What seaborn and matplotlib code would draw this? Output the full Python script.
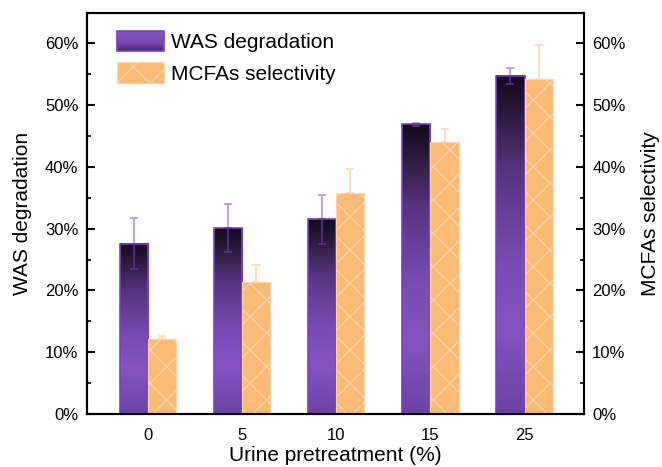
import numpy as np
import pandas as pd
import seaborn as sns
import matplotlib
matplotlib.use("Agg")
import matplotlib.pyplot as plt
from matplotlib.colors import LinearSegmentedColormap
from matplotlib.ticker import PercentFormatter, MultipleLocator
from matplotlib.patches import Rectangle
from matplotlib.legend_handler import HandlerBase

categories = ["0", "5", "10", "15", "25"]
series = ["WAS degradation", "MCFAs selectivity"]
was = [27.6, 30.1, 31.5, 46.9, 54.8]
was_err = [4.2, 3.9, 3.9, 0.3, 1.3]
mcfa = [12.1, 21.3, 35.8, 44.1, 54.3]
mcfa_err = [0.5, 2.8, 3.8, 2.1, 5.5]

PURPLE = "#7a4ab5"
PURPLE_EDGE = "#7d3fc0"
ORANGE = "#fbbb75"
ORANGE_HATCH = "#fdd5aa"

sns.set_theme(style="ticks")
plt.rcParams["font.family"] = ["Liberation Sans", "DejaVu Sans"]
plt.rcParams["hatch.linewidth"] = 0.8
for k in ("text.color", "axes.labelcolor", "xtick.color", "ytick.color",
          "axes.edgecolor"):
    plt.rcParams[k] = "black"

df = pd.DataFrame({
    "Urine": categories * 2,
    "value": was + mcfa,
    "series": [series[0]] * len(categories) + [series[1]] * len(categories),
})

fig = plt.figure(figsize=(6.62, 4.67), dpi=100)
ax = fig.add_axes([0.131, 0.1135, 0.751, 0.8595])

sns.barplot(data=df, x="Urine", y="value", hue="series", order=categories,
            hue_order=series, palette=[PURPLE, ORANGE], width=0.6,
            errorbar=None, legend=False, ax=ax, saturation=1)

bar_cmap = LinearSegmentedColormap.from_list(
    "bar", [(0.0, "#6c42a4"), (0.25, "#8453c0"), (0.45, "#7a4bb4"),
            (0.72, "#55347f"), (0.9, "#2a1838"), (1.0, "#130a19")])
grad = np.linspace(0, 1, 256).reshape(-1, 1)

was_bars = ax.containers[0]
mcfa_bars = ax.containers[1]

for p in was_bars:
    x0, w, h = p.get_x(), p.get_width(), p.get_height()
    ax.imshow(grad, extent=[x0, x0 + w, 0, h], origin="lower", aspect="auto",
              cmap=bar_cmap, zorder=1.5, interpolation="bilinear")
    p.set_facecolor("none")
    p.set_edgecolor(PURPLE_EDGE)
    p.set_linewidth(1.2)
    p.set_zorder(2)

for p in mcfa_bars:
    p.set_facecolor(ORANGE)
    p.set_edgecolor(ORANGE_HATCH)
    p.set_hatch("x")
    p.set_linewidth(0.8)
    p.set_zorder(2)

xs_was = [p.get_x() + p.get_width() / 2 for p in was_bars]
xs_mcfa = [p.get_x() + p.get_width() / 2 for p in mcfa_bars]
zeros = [0] * len(categories)
# upper halves (light) and lower halves (dark, inside the bar)
ax.errorbar(xs_was, was, yerr=[zeros, was_err], fmt="none", ecolor="#b590e0",
            elinewidth=1.2, capsize=3, capthick=1.2, zorder=5)
ax.errorbar(xs_was, was, yerr=[was_err, zeros], fmt="none", ecolor="#5c2f92",
            elinewidth=1.2, capsize=3, capthick=1.2, zorder=5)
ax.errorbar(xs_mcfa, mcfa, yerr=[zeros, mcfa_err], fmt="none",
            ecolor="#fdd9b3", elinewidth=1.2, capsize=3, capthick=1.2,
            zorder=1)

ax.set_xlim(-0.65, 4.63)
ax.set_ylim(0, 65)

ax2 = ax.twinx()
ax2.set_ylim(0, 65)

for a in (ax, ax2):
    a.yaxis.set_major_locator(MultipleLocator(10))
    a.yaxis.set_minor_locator(MultipleLocator(5))
    a.yaxis.set_major_formatter(PercentFormatter(decimals=0))
    a.tick_params(axis="y", which="major", direction="in", length=5.5,
                  width=1.5, labelsize=12, pad=6, colors="black")
    a.tick_params(axis="y", which="minor", direction="in", length=3,
                  width=1.2)
    for s in a.spines.values():
        s.set_linewidth(1.5)
        s.set_color("black")

ax.tick_params(axis="x", length=0, labelsize=12, pad=10, colors="black")
ax.set_xlabel("Urine pretreatment (%)", fontsize=15, labelpad=2)
ax.set_ylabel("WAS degradation", fontsize=15, labelpad=9)
ax2.set_ylabel("MCFAs selectivity", fontsize=15, labelpad=11)

leg_cmap = LinearSegmentedColormap.from_list(
    "leg", [(0.0, "#45276a"), (0.4, "#7648b0"), (1.0, "#8554c2")])


class GradHandler(HandlerBase):
    def create_artists(self, legend, orig_handle, xdescent, ydescent,
                       width, height, fontsize, trans):
        n = 30
        arts = []
        for i in range(n):
            t = i / (n - 1)
            arts.append(Rectangle((-xdescent, -ydescent + height * i / n),
                                  width, height / n * 1.05,
                                  facecolor=leg_cmap(t), edgecolor="none",
                                  transform=trans))
        arts.append(Rectangle((-xdescent, -ydescent), width, height,
                              facecolor="none", edgecolor=PURPLE_EDGE,
                              lw=1.2, transform=trans))
        return arts


h1 = Rectangle((0, 0), 1, 1, facecolor=PURPLE, edgecolor=PURPLE_EDGE)
h2 = Rectangle((0, 0), 1, 1, facecolor=ORANGE, edgecolor=ORANGE_HATCH,
               hatch="x", lw=0.8)
ax.legend(handles=[h1, h2], labels=series, handler_map={h1: GradHandler()},
          loc="upper left", bbox_to_anchor=(0.061, 0.954), frameon=False,
          fontsize=15, handlelength=2.24, handleheight=1.13,
          handletextpad=0.35, labelspacing=0.48, borderpad=0,
          borderaxespad=0)

fig.savefig("out.png", dpi=100)
